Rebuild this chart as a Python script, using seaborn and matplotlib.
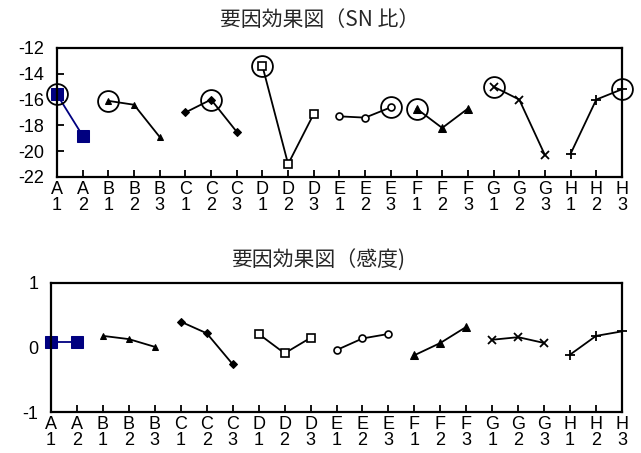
import numpy as np
import pandas as pd
import seaborn as sns
import matplotlib.pyplot as plt

sns.set_theme(style="white")
plt.rcParams['font.family'] = ['Liberation Sans', 'Noto Sans CJK JP', 'DejaVu Sans']
plt.rcParams['axes.unicode_minus'] = False

factors = ['A', 'B', 'C', 'D', 'E', 'F', 'G', 'H']
levels = [2, 3, 3, 3, 3, 3, 3, 3]

# 要因効果 (SN比)
sn_A = [-15.6, -18.8]
sn_B = [-16.1, -16.4, -18.9]
sn_C = [-17.0, -16.0, -18.5]
sn_D = [-13.4, -21.0, -17.1]
sn_E = [-17.3, -17.4, -16.6]
sn_F = [-16.7, -18.2, -16.7]
sn_G = [-15.0, -16.0, -20.3]
sn_H = [-20.2, -16.0, -15.2]
sn_vals = [sn_A, sn_B, sn_C, sn_D, sn_E, sn_F, sn_G, sn_H]

# 要因効果 (感度)
se_A = [0.09, 0.09]
se_B = [0.18, 0.13, 0.01]
se_C = [0.40, 0.22, -0.26]
se_D = [0.21, -0.09, 0.15]
se_E = [-0.04, 0.14, 0.21]
se_F = [-0.12, 0.07, 0.32]
se_G = [0.12, 0.16, 0.07]
se_H = [-0.11, 0.18, 0.25]
se_vals = [se_A, se_B, se_C, se_D, se_E, se_F, se_G, se_H]

tick_labels = [f"{f}\n{i + 1}" for f, n in zip(factors, levels) for i in range(n)]

styles = {
    'A': dict(marker='s', color='#000080', ms=8, mfc='#000080', mec='#000080'),
    'B': dict(marker='^', color='black', ms=5, mfc='black', mec='black'),
    'C': dict(marker='D', color='black', ms=4, mfc='black', mec='black'),
    'D': dict(marker='s', color='black', ms=6, mfc='white', mec='black', mew=1.2),
    'E': dict(marker='o', color='black', ms=5, mfc='white', mec='black', mew=1.2),
    'F': dict(marker='^', color='black', ms=6, mfc='black', mec='black'),
    'G': dict(marker='x', color='black', ms=6, mec='black', mew=1.3),
    'H': dict(marker='+', color='black', ms=7, mec='black', mew=1.3),
}


def build_df(vals):
    rows = []
    pos = 0
    for f, v in zip(factors, vals):
        for i, y in enumerate(v):
            rows.append((f, pos, y))
            pos += 1
    return pd.DataFrame(rows, columns=['factor', 'pos', 'val'])


def draw(ax, vals, ylim, yticks, circles):
    df = build_df(vals)
    for f in factors:
        sub = df[df.factor == f]
        st = dict(styles[f])
        col = st.pop('color')
        sns.lineplot(data=sub, x='pos', y='val', ax=ax, color=col, lw=1.3,
                     clip_on=False, legend=False, **st)
        if circles:
            best = sub.loc[sub.val.idxmax()]
            ax.plot(best.pos, best.val, 'o', ms=15, mfc='none', mec='black',
                    mew=1.3, clip_on=False)
    ax.set_xlim(0, len(df) - 1)
    ax.set_ylim(*ylim)
    ax.set_xticks(range(len(df)))
    ax.set_xticklabels(tick_labels, linespacing=0.9)
    ax.set_yticks(yticks)
    ax.set_xlabel('')
    ax.set_ylabel('')
    ax.tick_params(direction='in', length=5, width=1.3, labelsize=13,
                   colors='black', bottom=True, left=True)
    ax.tick_params(axis='x', pad=3)
    ax.tick_params(axis='y', pad=9)
    for s in ax.spines.values():
        s.set_color('black')
        s.set_linewidth(1.6)


fig = plt.figure(figsize=(6.41, 4.53), dpi=100)
ax1 = fig.add_axes([0.0889, 0.6093, 0.8814, 0.2848])
ax2 = fig.add_axes([0.0796, 0.0905, 0.8908, 0.2848])

draw(ax1, sn_vals, (-22, -12), [-22, -20, -18, -16, -14, -12], True)
draw(ax2, se_vals, (-1, 1), [-1, 0, 1], False)

title_font = ['Noto Sans CJK JP', 'DejaVu Sans']
fig.text(0.498, 0.955, '要因効果図（SN 比）', ha='center', va='center',
         fontsize=15, family=title_font)
fig.text(0.496, 0.425, '要因効果図（感度)', ha='center', va='center',
         fontsize=15, family=title_font)

fig.savefig('out.png', dpi=100)
